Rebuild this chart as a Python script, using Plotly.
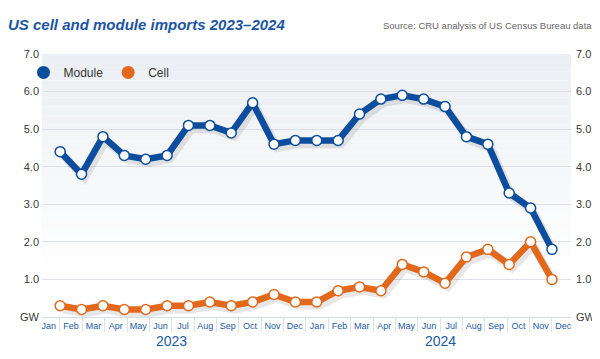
import numpy as np
import plotly.graph_objects as go

months = ["Jan", "Feb", "Mar", "Apr", "May", "Jun", "Jul", "Aug", "Sep", "Oct", "Nov", "Dec"] * 2
years = ["2023", "2024"]
module = [4.4, 3.8, 4.8, 4.3, 4.2, 4.3, 5.1, 5.1, 4.9, 5.7, 4.6, 4.7,
          4.7, 4.7, 5.4, 5.8, 5.9, 5.8, 5.6, 4.8, 4.6, 3.3, 2.9, 1.8]
cell = [0.3, 0.2, 0.3, 0.2, 0.2, 0.3, 0.3, 0.4, 0.3, 0.4, 0.6, 0.4,
        0.4, 0.7, 0.8, 0.7, 1.4, 1.2, 0.9, 1.6, 1.8, 1.4, 2.0, 1.0]
y_ticks = [0, 1, 2, 3, 4, 5, 6, 7]
y_labels = ["GW", "1.0", "2.0", "3.0", "4.0", "5.0", "6.0", "7.0"]

BLUE = "#0c4d9d"
ORANGE = "#e2681c"
FONT = "Liberation Sans Narrow, Arial Narrow, Liberation Sans, sans-serif"

idx = np.arange(len(module))
fig = go.Figure()

# drop shadows
for vals in (cell, module):
    fig.add_trace(go.Scatter(x=idx + 0.14, y=np.array(vals) - 0.1, mode="lines",
                             line=dict(color="rgba(60,60,60,0.12)", width=8),
                             hoverinfo="skip", showlegend=False))

for name, vals, col in (("Cell", cell, ORANGE), ("Module", module, BLUE)):
    fig.add_trace(go.Scatter(x=idx, y=vals, mode="lines+markers", name=name,
                             line=dict(color=col, width=6.5),
                             marker=dict(size=10, color="white", line=dict(color=col, width=1.5)),
                             showlegend=False))

for name, col in (("Module", BLUE), ("Cell", ORANGE)):
    fig.add_trace(go.Scatter(x=[None], y=[None], mode="markers", name=name,
                             marker=dict(size=13, color=col), showlegend=True))

# dummy trace to realise the label axes
fig.add_trace(go.Scatter(x=[0, 23], y=[0, 0], xaxis="x2", yaxis="y2", mode="markers",
                         marker=dict(opacity=0), hoverinfo="skip", showlegend=False))

# gradient background bands
n = 30
top = np.array([236, 239, 243])
bot = np.array([255, 255, 255])
for i in range(n):
    f = min(1.0, (i / n) / 0.8)
    c = (top + (bot - top) * f).astype(int)
    y1 = 1 - i / n
    y0 = 1 - (i + 1) / n
    fig.add_shape(type="rect", xref="x domain", yref="y domain", x0=0, x1=1, y0=y0, y1=y1,
                  fillcolor=f"rgb({c[0]},{c[1]},{c[2]})", line=dict(width=0), layer="below")

for yr, pos in zip(years, (5.5, 17.5)):
    fig.add_annotation(text=yr, x=pos, xref="x2", y=-0.09, yref="paper", showarrow=False,
                       font=dict(family=FONT, size=14, color="#1d5aa6"), yanchor="middle")

fig.add_annotation(text="Source: CRU analysis of US Census Bureau data", x=1.044, xref="paper",
                   xanchor="right", y=1.108, yref="paper", yanchor="middle", showarrow=False,
                   font=dict(family=FONT, size=9.5, color="#666666"))

fig.update_layout(
    width=600, height=359, autosize=False,
    title=dict(text="<b><i>US cell and module imports 2023–2024</i></b>", xref="container",
               yref="container", x=0.0, xanchor="left", y=0.953, yanchor="middle",
               font=dict(family=FONT, size=15, color="#1d55a3")),
    margin=dict(l=23, r=23, t=46, b=50, pad=0),
    paper_bgcolor="white", plot_bgcolor="rgba(0,0,0,0)",
    xaxis=dict(range=[-0.85, 23.89], visible=False, showgrid=False),
    xaxis2=dict(range=[-0.30, 23.35], overlaying="x", anchor="y", side="bottom",
                tickmode="array", tickvals=list(range(24)), ticktext=months, ticks="",
                tickfont=dict(family=FONT, size=9, color="#1d5aa6"), showgrid=False,
                zeroline=False, showline=False, ticklabelstandoff=2,
                minor=dict(tickmode="array", tickvals=[i + 0.5 for i in range(23)],
                           ticks="outside", ticklen=14, tickcolor="#dbe2ec", tickwidth=1)),
    yaxis=dict(range=[0, 7], tickmode="array", tickvals=y_ticks, ticktext=y_labels,
               showgrid=True, gridcolor="#dde1e7", gridwidth=1, zeroline=True,
               zerolinecolor="#d5dbe3", zerolinewidth=1, ticks="", showline=False,
               tickfont=dict(family=FONT, size=11, color="#3a3a3a"), ticklabelstandoff=2),
    yaxis2=dict(range=[0, 7], overlaying="y", anchor="x", side="right", tickmode="array",
                tickvals=y_ticks, ticktext=y_labels, showgrid=False, zeroline=False,
                ticks="", tickfont=dict(family=FONT, size=11, color="#3a3a3a"), ticklabelstandoff=4),
    legend=dict(orientation="h", x=-0.035, y=0.985, xanchor="left", yanchor="top",
                bgcolor="rgba(0,0,0,0)", font=dict(family=FONT, size=12, color="#333333"),
                itemwidth=30, tracegroupgap=0),
    hovermode=False,
)
fig.write_html("out.html")
